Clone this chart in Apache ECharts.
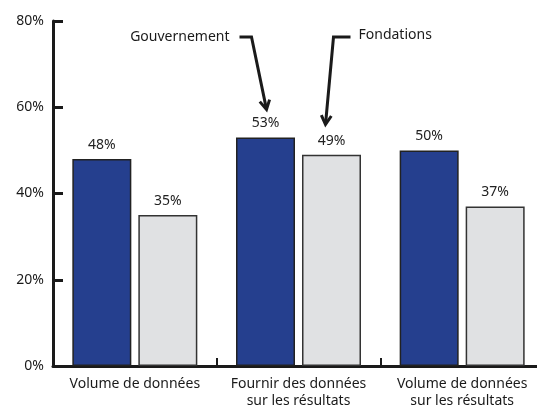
<!DOCTYPE html>
<html>
<head>
<meta charset="utf-8">
<script src="https://cdn.jsdelivr.net/npm/echarts@6/dist/echarts.min.js"></script>
<style>
  html, body { margin: 0; padding: 0; background: #fff; }
  #chart { width: 537px; height: 405px; }
</style>
</head>
<body>
<div id="chart"></div>
<script>
// données
const categories = ['Volume de données', 'Fournir des données\nsur les résultats', 'Volume de données\nsur les résultats'];
const gouvernement = [48, 53, 50];
const fondations = [35, 49, 37];
const yTicks = [0, 20, 40, 60, 80];

const font = 'Noto Sans';
const barW = 59, gap = 7;
const chart = echarts.init(document.getElementById('chart'));

const option = {
  animation: false,
  textStyle: { fontFamily: font },
  // outerBoundsMode 'none' : la grille ne rétrécit pas pour garder les libellés dans le cadre
  grid: { left: 53, width: 491, top: 21, height: 345, outerBoundsMode: 'none', containLabel: false },
  xAxis: {
    type: 'category',
    data: categories,
    axisLine: { lineStyle: { color: '#1a1a1a', width: 3 } },
    axisTick: { show: true, inside: true, length: 8, lineStyle: { color: '#1a1a1a', width: 2 } },
    axisLabel: { color: '#1a1a1a', fontSize: 14, margin: 10, lineHeight: 17, interval: 0 }
  },
  yAxis: {
    type: 'value',
    min: yTicks[0],
    max: yTicks[yTicks.length - 1],
    interval: 20,
    splitLine: { show: false },
    axisLine: { show: true, lineStyle: { color: '#1a1a1a', width: 3 } },
    axisTick: { show: true, inside: true, length: 10, lineStyle: { color: '#1a1a1a', width: 3 } },
    axisLabel: { color: '#1a1a1a', fontSize: 14, margin: 9, formatter: '{value}%' }
  },
  series: [
    {
      name: 'Gouvernement',
      type: 'bar',
      data: gouvernement,
      barWidth: barW,
      barGap: (gap / barW * 100) + '%',
      itemStyle: { color: '#253f8e', borderColor: '#222', borderWidth: 1.5 },
      label: { show: true, position: 'top', distance: 7, formatter: '{c}%', color: '#222', fontSize: 14, fontFamily: font }
    },
    {
      name: 'Fondations',
      type: 'bar',
      data: fondations,
      barWidth: barW,
      itemStyle: { color: '#e0e1e3', borderColor: '#333', borderWidth: 1.5 },
      label: { show: true, position: 'top', distance: 7, formatter: '{c}%', color: '#222', fontSize: 14, fontFamily: font }
    }
  ]
};
chart.setOption(option);

// flèches d'annotation au-dessus des barres du 2e groupe
function arrow(tip, bend, start) {
  const dx = tip[0] - bend[0], dy = tip[1] - bend[1];
  const len = Math.sqrt(dx * dx + dy * dy);
  const ux = dx / len, uy = dy / len;
  const px = -uy, py = ux;
  const head = [
    [tip[0] - ux * 9 + px * 5, tip[1] - uy * 9 + py * 5],
    tip,
    [tip[0] - ux * 9 - px * 5, tip[1] - uy * 9 - py * 5]
  ];
  return [
    { type: 'polyline', shape: { points: [start, bend, tip] }, style: { stroke: '#1a1a1a', lineWidth: 3, fill: null } },
    { type: 'polyline', shape: { points: head }, style: { stroke: '#1a1a1a', lineWidth: 3, fill: null } }
  ];
}

const off = (barW + gap) / 2;
const gTip = chart.convertToPixel({ seriesIndex: 0 }, [1, gouvernement[1] + 6.5]);
const fTip = chart.convertToPixel({ seriesIndex: 1 }, [1, fondations[1] + 7]);
gTip[0] += -off + 1;
fTip[0] += off - 6;

const elements = [].concat(
  arrow(gTip, [gTip[0] - 15, 37], [gTip[0] - 27, 37]),
  arrow(fTip, [fTip[0] + 8, 37], [fTip[0] + 25, 37]),
  [
    { type: 'text', style: { text: 'Gouvernement', x: gTip[0] - 37, y: 37, align: 'right', verticalAlign: 'middle', font: '14px "' + font + '"', fill: '#1a1a1a' } },
    { type: 'text', style: { text: 'Fondations', x: fTip[0] + 33, y: 35, align: 'left', verticalAlign: 'middle', font: '14px "' + font + '"', fill: '#1a1a1a' } }
  ]
);
chart.setOption({ graphic: elements });
</script>
</body>
</html>
